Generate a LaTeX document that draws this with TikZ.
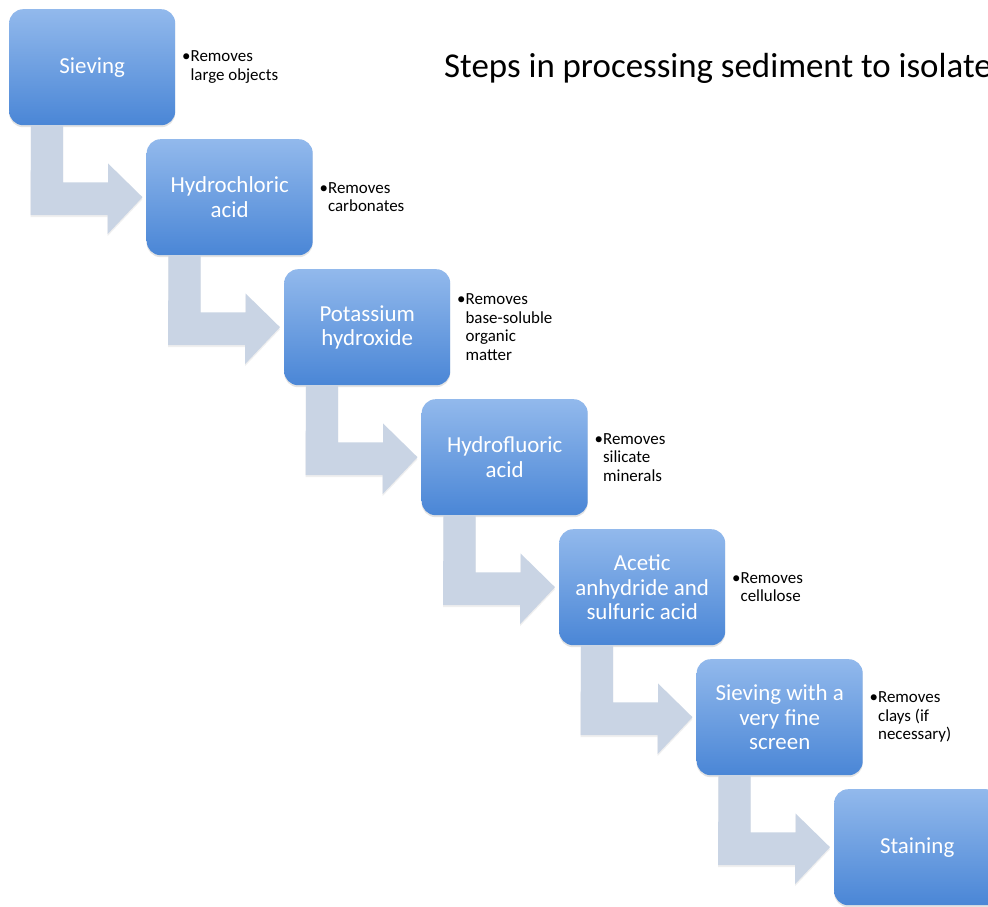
\documentclass[tikz,border=0pt]{standalone}
\usepackage{fontspec}
\setmainfont{Carlito}
\usetikzlibrary{shadows,calc}
\definecolor{boxtop}{RGB}{146,185,236}
\definecolor{boxbot}{RGB}{74,134,214}
\definecolor{arrowc}{RGB}{201,212,228}
\begin{document}
\begin{tikzpicture}[x=1bp,y=-1bp,
  stepbox/.style={rounded corners=14bp, minimum width=166bp, minimum height=116bp,
    top color=boxtop, bottom color=boxbot, draw=none, text=white,
    font=\fontsize{23}{24.5}\selectfont, align=center, inner sep=0pt, anchor=north west,
    drop shadow={opacity=0.22, shadow xshift=0bp, shadow yshift=-2bp}},
  note/.style={font=\fontsize{17}{18.5}\selectfont, align=left, anchor=west, inner sep=0pt},
  flow/.style={fill=arrowc, draw=none, drop shadow={opacity=0.12, shadow xshift=0bp, shadow yshift=-2bp}}]
\useasboundingbox (0,0) rectangle (988,907);
\clip (0,0) rectangle (988,907);
\fill[white] (0,0) rectangle (988,907);

\node[anchor=base west, font=\fontsize{35}{35}\selectfont, inner sep=0pt] (title) at (444,77) {Steps in processing sediment to isolate};

\node[stepbox] (b1) at (9,9) {Sieving};
\node[stepbox] (b2) at (146.5,139) {Hydrochloric\\acid};
\node[stepbox] (b3) at (284,269) {Potassium\\hydroxide};
\node[stepbox] (b4) at (421.5,399) {Hydrofluoric\\acid};
\node[stepbox] (b5) at (559,529) {Acetic\\anhydride and\\sulfuric acid};
\node[stepbox] (b6) at (696.5,659) {Sieving with a\\very fine\\screen};
\node[stepbox] (b7) at (834,789) {Staining};

\foreach \a/\b in {b1/b2,b2/b3,b3/b4,b4/b5,b5/b6,b6/b7}{
  \fill[flow] ($(\a.south west)+(22,0)$) -- ++(32,0) -- ++(0,57) -- ++(45,0) -- ++(0,-19)
    -- ($(\b.west)+(-4,0)$) -- ++(-35,37) -- ++(0,-19) -- ++(-77,0) -- cycle;
}

\node[note] (n1) at ($(b1.east)+(15,0)$) {\llap{•}Removes\\large objects};
\node[note] (n2) at ($(b2.east)+(15,0)$) {\llap{•}Removes\\carbonates};
\node[note] (n3) at ($(b3.east)+(15,0)$) {\llap{•}Removes\\base-soluble\\organic\\matter};
\node[note] (n4) at ($(b4.east)+(15,0)$) {\llap{•}Removes\\silicate\\minerals};
\node[note] (n5) at ($(b5.east)+(15,0)$) {\llap{•}Removes\\cellulose};
\node[note] (n6) at ($(b6.east)+(15,0)$) {\llap{•}Removes\\clays (if\\necessary)};
\end{tikzpicture}
\end{document}
